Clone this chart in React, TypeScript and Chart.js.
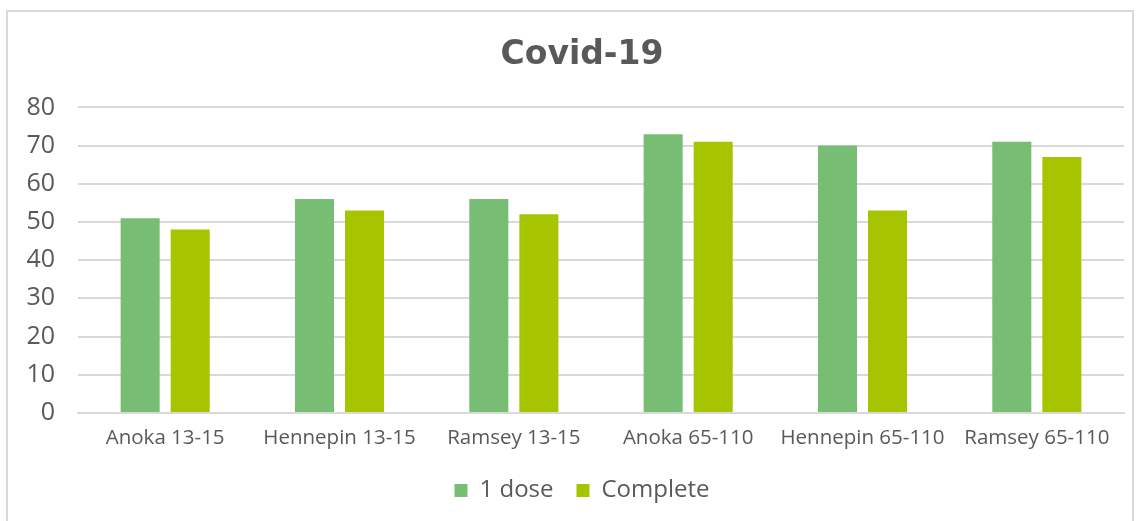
import React, { useEffect, useRef } from "react";
import { Chart, registerables } from "chart.js";

Chart.register(...registerables);

const categories = ["Anoka 13-15", "Hennepin 13-15", "Ramsey 13-15", "Anoka 65-110", "Hennepin 65-110", "Ramsey 65-110"];
const oneDose = [51, 56, 56, 73, 70, 71];
const complete = [48, 53, 52, 71, 53, 67];
const yTicks = [0, 10, 20, 30, 40, 50, 60, 70, 80];

const FONT = "'Open Sans', 'DejaVu Sans', sans-serif";
const TITLE_FONT = "'DejaVu Sans', sans-serif";
const TEXT = "#595959";

export default function App() {
  const ref = useRef<HTMLCanvasElement | null>(null);
  useEffect(() => {
    if (!ref.current) return;
    const chart = new Chart(ref.current, {
      type: "bar",
      data: {
        labels: categories,
        datasets: [
          { label: "1 dose", data: oneDose, backgroundColor: "#77BD73", barPercentage: 0.78, categoryPercentage: 0.574 },
          { label: "Complete", data: complete, backgroundColor: "#A6C500", barPercentage: 0.78, categoryPercentage: 0.574 },
        ],
      },
      options: {
        animation: false,
        responsive: false,
        maintainAspectRatio: false,
        layout: { padding: { left: 24, right: 0, top: 35.5, bottom: 8.5 } },
        plugins: {
          title: {
            display: true,
            text: "Covid-19",
            color: TEXT,
            font: { family: TITLE_FONT, size: 33, weight: "bold" },
            padding: { top: 0, bottom: 32.3 },
          },
          legend: {
            position: "bottom",
            labels: {
              color: TEXT,
              font: { family: FONT, size: 24 },
              boxWidth: 13,
              boxHeight: 13,
              padding: 23,
            },
          },
          tooltip: { enabled: false },
        },
        scales: {
          x: {
            grid: { display: false },
            border: { color: "#D9D9D9", width: 2 },
            ticks: { color: TEXT, font: { family: FONT, size: 20.5 }, maxRotation: 0, autoSkip: false, padding: 5 },
          },
          y: {
            min: 0,
            max: 80,
            afterBuildTicks: (axis: any) => {
              axis.ticks = yTicks.map((v) => ({ value: v }));
            },
            afterFit: (axis: any) => {
              axis.width = 54;
            },
            grid: { color: "#D9D9D9", lineWidth: 2, drawTicks: false },
            border: { display: false },
            ticks: { color: TEXT, font: { family: FONT, size: 25 }, padding: 23 },
          },
          yRight: {
            position: "right",
            display: true,
            min: 0,
            max: 80,
            grid: { display: false, drawTicks: false },
            border: { display: false },
            ticks: { display: false },
            afterFit: (axis: any) => {
              axis.width = 16;
            },
          },
        },
      },
    });
    return () => chart.destroy();
  }, []);
  return (
    <div style={{ position: "fixed", left: 0, top: 0, width: 1140, height: 521, background: "#fff" }}>
      <div
        style={{
          position: "absolute",
          left: 6,
          top: 10,
          width: 1128,
          height: 530,
          border: "2px solid #D9D9D9",
          boxSizing: "border-box",
        }}
      />
      <canvas ref={ref} width={1140} height={521} style={{ position: "absolute", left: 0, top: 0 }} />
    </div>
  );
}
